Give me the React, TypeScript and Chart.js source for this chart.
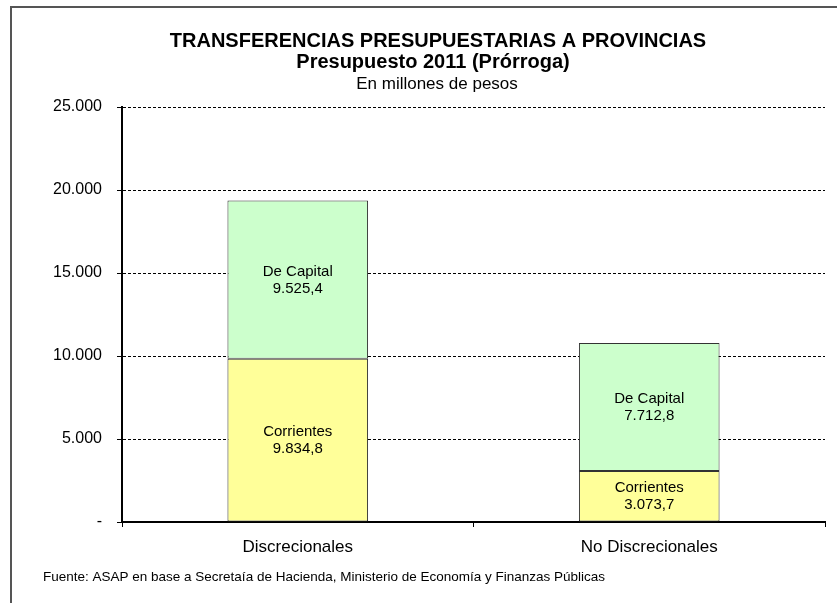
import React, { useEffect, useRef } from "react";
import { Chart, registerables } from "chart.js";

Chart.register(...registerables);

const categories = ["Discrecionales", "No Discrecionales"];
const corrientes = [9834.8, 3073.7];
const deCapital = [9525.4, 7712.8];
const seriesNames = ["Corrientes", "De Capital"];
const yTicks = [0, 5000, 10000, 15000, 20000, 25000];
const titleLines = ["TRANSFERENCIAS PRESUPUESTARIAS A PROVINCIAS", "Presupuesto 2011 (Prórroga)"];
const subtitleText = "En millones de pesos";
const sourceText = "Fuente: ASAP en base a Secretaía de Hacienda, Ministerio de Economía y Finanzas Públicas";

const FONT = "'Liberation Sans', Arial, sans-serif";

function fmtThousands(v: number): string {
  if (v === 0) return "-";
  return Math.round(v).toString().replace(/\B(?=(\d{3})+(?!\d))/g, ".");
}
function fmtValue(v: number): string {
  const [i, d] = v.toFixed(1).split(".");
  return i.replace(/\B(?=(\d{3})+(?!\d))/g, ".") + "," + d;
}

const decorPlugin = {
  id: "decor",
  beforeDraw(chart: any) {
    const ctx = chart.ctx;
    ctx.save();
    ctx.fillStyle = "#ffffff";
    ctx.fillRect(0, 0, chart.width, chart.height);
    ctx.strokeStyle = "#555555";
    ctx.lineWidth = 2;
    ctx.beginPath();
    ctx.moveTo(11, chart.height + 5);
    ctx.lineTo(11, 7);
    ctx.lineTo(chart.width + 5, 7);
    ctx.stroke();
    ctx.fillStyle = "#000";
    ctx.textAlign = "center";
    ctx.textBaseline = "middle";
    ctx.font = `bold 20px ${FONT}`;
    ctx.fillText(titleLines[0], 438, 41);
    ctx.fillText(titleLines[1], 433, 62);
    ctx.font = `17px ${FONT}`;
    ctx.fillText(subtitleText, 437, 84);
    ctx.textAlign = "left";
    ctx.font = `13.5px ${FONT}`;
    ctx.fillText(sourceText, 43, 577);
    ctx.restore();
  },
  afterDatasetsDraw(chart: any) {
    const ctx = chart.ctx;
    ctx.save();
    ctx.fillStyle = "#000";
    ctx.textAlign = "center";
    ctx.textBaseline = "middle";
    ctx.font = `15px ${FONT}`;
    chart.data.datasets.forEach((ds: any, di: number) => {
      const meta = chart.getDatasetMeta(di);
      meta.data.forEach((bar: any, i: number) => {
        const cy = (bar.y + bar.base) / 2;
        ctx.fillText(ds.label, bar.x, cy - 8);
        ctx.fillText(fmtValue(ds.data[i]), bar.x, cy + 9);
      });
    });
    ctx.restore();
  },
};

export default function App() {
  const ref = useRef<HTMLCanvasElement>(null);
  useEffect(() => {
    if (!ref.current) return;
    const chart = new Chart(ref.current, {
      type: "bar",
      data: {
        labels: categories,
        datasets: [
          {
            label: seriesNames[0],
            data: corrientes,
            backgroundColor: "#FFFF99",
            borderColor: "#333333",
            borderWidth: 1,
            borderSkipped: false,
            barPercentage: 0.4,
            categoryPercentage: 1,
          },
          {
            label: seriesNames[1],
            data: deCapital,
            backgroundColor: "#CCFFCC",
            borderColor: "#333333",
            borderWidth: 1,
            borderSkipped: false,
            barPercentage: 0.4,
            categoryPercentage: 1,
          },
        ],
      },
      plugins: [decorPlugin],
      options: {
        animation: false,
        responsive: false,
        layout: { padding: { left: 0, right: 12, top: 107, bottom: 41 } },
        plugins: {
          legend: { display: false },
          title: { display: false },
          tooltip: { enabled: false },
        },
        scales: {
          x: {
            stacked: true,
            afterFit: (s: any) => {
              s.height = 40;
            },
            grid: {
              display: true,
              drawOnChartArea: false,
              drawTicks: true,
              tickLength: 5,
              color: "#000",
              offset: true,
            },
            border: { display: true, color: "#000", width: 2 },
            ticks: {
              color: "#000",
              padding: 10,
              font: { family: FONT, size: 17 },
            },
          },
          y: {
            stacked: true,
            min: 0,
            max: 25000,
            afterFit: (s: any) => {
              s.width = 122;
            },
            afterBuildTicks: (s: any) => {
              s.ticks = yTicks.map((v) => ({ value: v }));
            },
            grid: {
              color: "#000",
              lineWidth: 1,
              tickLength: 5,
              tickBorderDash: [],
            },
            border: { display: true, color: "#000", width: 2, dash: [3, 2] },
            ticks: {
              color: "#000",
              padding: 15,
              font: { family: FONT, size: 16 },
              callback: (v: any) => fmtThousands(Number(v)),
            },
          },
        },
      },
    } as any);
    return () => chart.destroy();
  }, []);
  return (
    <div style={{ position: "absolute", left: 0, top: 0, width: 837, height: 603 }}>
      <canvas ref={ref} width={837} height={603} style={{ width: 837, height: 603 }} />
    </div>
  );
}
